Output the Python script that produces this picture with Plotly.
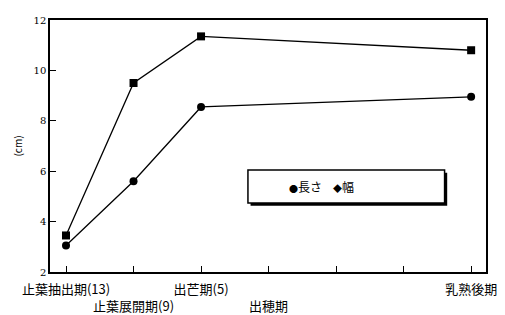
import plotly.graph_objects as go

stages = ["止葉抽出期(13)", "止葉展開期(9)", "出芒期(5)", "出穂期", "", "", "乳熟後期"]
stage_pos = [0, 1, 2, 3, 4, 5, 6]
label_row = [1, 2, 1, 2, 1, 1, 1]
x_pts = [0, 1, 2, 6]
length_cm = [3.45, 9.5, 11.35, 10.8]
width_cm = [3.05, 5.6, 8.55, 8.95]
y_ticks = [2, 4, 6, 8, 10, 12]
series_names = ["長さ", "幅"]
legend_marks = ["●", "◆"]

ticktext = [("<br>" + s) if r == 2 else s for s, r in zip(stages, label_row)]

fig = go.Figure()
fig.add_trace(go.Scatter(x=x_pts, y=length_cm, name=series_names[0], mode="lines+markers",
                         line=dict(color="black", width=1.3), showlegend=False,
                         marker=dict(symbol="square", size=8, color="black")))
fig.add_trace(go.Scatter(x=x_pts, y=width_cm, name=series_names[1], mode="lines+markers",
                         line=dict(color="black", width=1.3), showlegend=False,
                         marker=dict(symbol="circle", size=8, color="black")))

font = "Noto Sans CJK JP"

# legend key drawn as a framed box with a drop shadow, as in the original
bx0, bx1, by0, by1 = 0.454, 0.905, 0.274, 0.405
fig.add_shape(type="rect", xref="paper", yref="paper", x0=bx0 + 0.006, x1=bx1 + 0.006,
              y0=by0 - 0.011, y1=by1 - 0.011, fillcolor="black", line=dict(width=0), layer="above")
fig.add_shape(type="rect", xref="paper", yref="paper", x0=bx0, x1=bx1, y0=by0, y1=by1,
              fillcolor="white", line=dict(color="black", width=1.5), layer="above")
key_x = [bx0 + 0.09, bx0 + 0.19]
for kx, m, n in zip(key_x, legend_marks, series_names):
    fig.add_annotation(xref="paper", yref="paper", x=kx, y=(by0 + by1) / 2,
                       xanchor="left", yanchor="middle", showarrow=False,
                       text=f"<span style='font-size:9px'>{m}</span>{n}",
                       font=dict(size=12, family=font, color="black"))

fig.update_layout(
    width=505, height=315,
    margin=dict(l=50, r=19, t=20, b=43, autoexpand=False),
    paper_bgcolor="white", plot_bgcolor="white",
    font=dict(family=font, color="black", size=12),
    showlegend=False,
    xaxis=dict(range=[-0.237, 6.22], tickmode="array", tickvals=stage_pos, ticktext=ticktext,
               tickangle=0, automargin=False, ticklabelstandoff=5,
               ticks="inside", ticklen=6, tickcolor="black", showgrid=False, zeroline=False,
               showline=True, linecolor="black", linewidth=1.5, mirror=True,
               tickfont=dict(size=13, family=font)),
    yaxis=dict(range=[2, 12], tickvals=y_ticks, ticks="inside", ticklen=6, tickcolor="black",
               automargin=False,
               showgrid=False, zeroline=False, showline=True, linecolor="black", linewidth=1.5,
               mirror=True, tickfont=dict(size=10, family="DejaVu Serif"),
               title=dict(text="(cm)", font=dict(size=10), standoff=9)),
)
fig.write_html("out.html")
